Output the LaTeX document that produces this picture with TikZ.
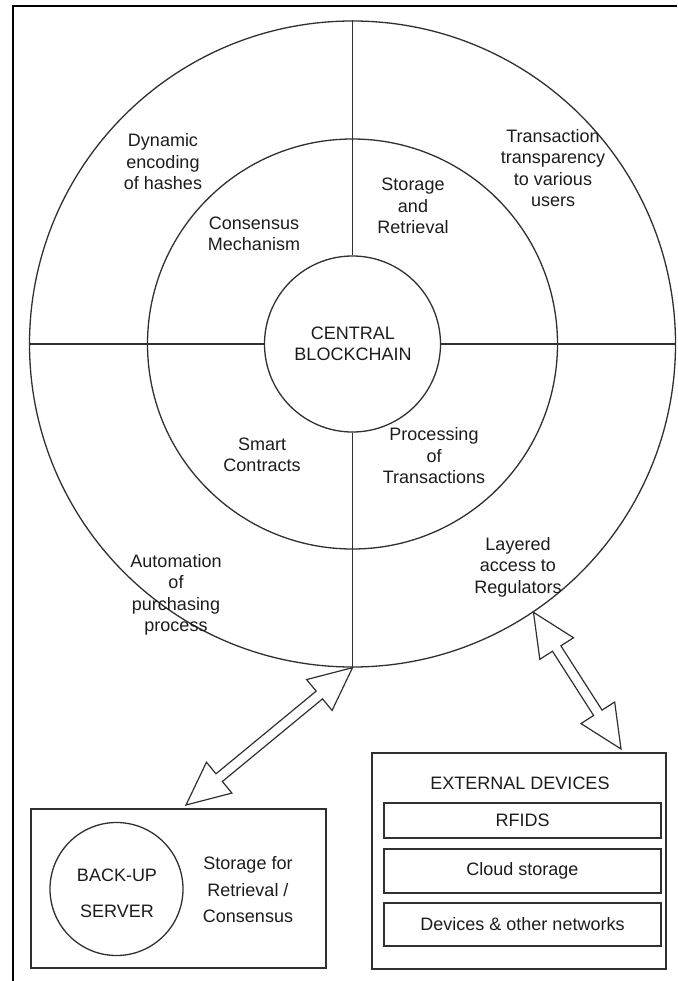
\documentclass[tikz,border=0pt]{standalone}
\usepackage{fontspec}
\setmainfont{Liberation Sans}
\usetikzlibrary{calc}
\definecolor{ink}{HTML}{303030}
\definecolor{txt}{HTML}{1C1C1C}
\tikzset{
  ring/.style={circle, draw=ink, line width=1.3pt, inner sep=0pt},
  lbl/.style={align=center, text=txt, inner sep=0pt, font=\fontsize{18}{21.5}\selectfont},
  divider/.style={draw=ink, line width=1.3pt},
  boxframe/.style={rectangle, draw=ink, line width=1.4pt, inner sep=0pt},
  frameline/.style={draw=black, line width=2pt},
  arrowline/.style={draw=ink, line width=1.2pt, fill=white, line join=miter},
}
% hollow double-headed block arrow between two points
\newcommand{\hollowarrow}[2]{%
  \coordinate (ha1) at ($(#1)!43pt!(#2)$);
  \coordinate (ha2) at ($(#2)!43pt!(#1)$);
  \draw[arrowline] (#1) -- ($(ha1)!20pt!90:(#2)$) -- ($(ha1)!5pt!90:(#2)$)
    -- ($(ha2)!5pt!-90:(#1)$) -- ($(ha2)!20pt!-90:(#1)$) -- (#2)
    -- ($(ha2)!20pt!90:(#1)$) -- ($(ha2)!5pt!90:(#1)$)
    -- ($(ha1)!5pt!-90:(#2)$) -- ($(ha1)!20pt!-90:(#2)$) -- cycle;}
\begin{document}
\begin{tikzpicture}[x=1pt, y=-1pt]
\useasboundingbox (0,0) rectangle (677,981);
\fill[white] (0,0) rectangle (677,981);
\draw[frameline] (12.5,981) -- (12.5,6.5) -- (677,6.5);

% concentric rings
\node[ring, minimum size=646pt] (outer) at (352.5,344) {};
\node[ring, minimum size=410pt] (middle) at (352.5,344) {};
\node[ring, minimum size=176pt, fill=white] (core) at (352.5,344) {};
\node[lbl] (corelabel) at (353,344) {CENTRAL\\BLOCKCHAIN};

% quadrant dividers
\draw[divider] (outer.west) -- (core.west);
\draw[divider] (core.east) -- (outer.east);
\draw[divider] (outer.north) -- (core.north);
\draw[divider] (core.south) -- (outer.south);

% outer ring labels
\node[lbl] (hashes) at (163,162) {Dynamic\\encoding\\of hashes};
\node[lbl] (transp) at (553,168) {Transaction\\transparency\\to various\\users};
\node[lbl] (purch) at (176,595) {Automation\\of\\purchasing\\process};
\node[lbl] (regul) at (518,567) {Layered\\access to\\Regulators};

% middle ring labels
\node[lbl] (consensus) at (254,234) {Consensus\\Mechanism};
\node[lbl] (storage) at (413,206) {Storage\\and\\Retrieval};
\node[lbl] (smart) at (262,455) {Smart\\Contracts};
\node[lbl] (process) at (434,456) {Processing\\of\\Transactions};

% back-up server block
\node[boxframe, minimum width=295pt, minimum height=159pt] (backupbox) at (178.5,888.5) {};
\node[ring, minimum size=133pt] (server) at (116.5,889) {};
\node[lbl, font=\fontsize{18}{36}\selectfont] (serverlabel) at (117,893) {BACK-UP\\SERVER};
\node[lbl, font=\fontsize{18}{26.5}\selectfont] (backupnote) at (248,890) {Storage for\\Retrieval /\\Consensus};

% external devices block
\node[boxframe, minimum width=294pt, minimum height=216pt] (extbox) at (519,861) {};
\node[lbl] (exttitle) at (520,783) {EXTERNAL DEVICES};
\node[boxframe, lbl, minimum width=277pt, minimum height=35pt] (rfid) at (522.5,820.5) {RFIDS};
\node[boxframe, lbl, minimum width=277pt, minimum height=44pt] (cloud) at (522.5,871) {Cloud storage};
\node[boxframe, lbl, minimum width=277pt, minimum height=43pt] (devices) at (522.5,924.5) {Devices \& other networks};

% connectors
\coordinate (backuptip) at (186,805);
\coordinate (exttip) at (621,749);
\coordinate (ringbottom) at (outer.south);
\coordinate (ringside) at (outer.-56.7);
\hollowarrow{ringbottom}{backuptip}
\hollowarrow{ringside}{exttip}
\end{tikzpicture}
\end{document}
